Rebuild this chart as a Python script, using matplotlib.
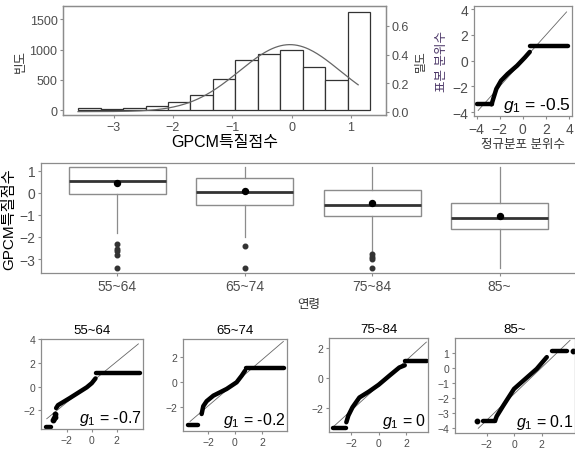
import numpy as np
import matplotlib
matplotlib.use('Agg')
import matplotlib.pyplot as plt

plt.rcParams['font.family'] = ['Liberation Sans', 'Noto Sans CJK KR']
plt.rcParams['mathtext.fontset'] = 'custom'
plt.rcParams['mathtext.it'] = 'Liberation Sans:italic'
plt.rcParams['mathtext.rm'] = 'Liberation Sans'

W, H = 575, 452
TICK = '#4d4d4d'
FRAME = '#8c8c8c'

# ---- histogram (GPCM 특질점수)
bin_left = -3.60
bin_width = 0.379
counts = [33, 11, 27, 60, 138, 248, 512, 830, 919, 995, 710, 490, 1628]
dens_mean = -0.03
dens_sd = 0.85
dens_range = (-3.6, 1.12)

# ---- boxplot by age
ages = ['55~64', '65~74', '75~84', '85~']
q1 = [-0.06, -0.55, -1.03, -1.65]
med = [0.53, 0.03, -0.55, -1.15]
q3 = [1.15, 0.65, 0.13, -0.44]
whis_lo = [-1.8, -1.98, -2.7, -3.39]
whis_hi = [1.15, 1.15, 1.15, 1.15]
means = [0.45, 0.10, -0.44, -1.05]
fliers = [[-2.3, -2.56, -2.65, -2.83, -3.39],
          [-2.39, -3.39],
          [-2.79, -2.9, -3.01, -3.39],
          []]

# ---- QQ plot, all
all_low = (-3.94, -2.7, -3.39)
all_x = [-2.7, -2.56, -2.29, -1.88, -1.32, -0.5, 0.19, 0.6]
all_y = [-3.39, -2.97, -2.19, -1.55, -1.03, -0.39, 0.26, 0.68]
all_high = (0.62, 3.91, 1.15)
all_ref = (1.0, 0.0, -3.86, 3.78)  # slope, intercept, x from, x to
all_g1 = '-0.5'

# ---- QQ plots by age
grp_low = [(-3.65, -3.3, -3.4), (-3.45, -2.75, -3.4), (-3.32, -2.35, -3.35), (-2.28, -1.38, -3.5)]
grp_x = [[-2.85, -2.7, -2.3, -1.75, -1.0, -0.4, 0.0, 0.3],
         [-2.47, -2.35, -2.1, -1.6, -0.62, 0.12, 0.5, 0.74],
         [-2.35, -2.2, -1.9, -1.4, -0.7, 0.0, 0.8, 1.5, 1.9],
         [-1.38, -1.26, -0.78, 0.0, 0.68, 1.65, 2.38]]
grp_y = [[-1.8, -1.55, -1.3, -0.95, -0.45, -0.05, 0.3, 0.7],
         [-2.52, -1.9, -1.5, -1.06, -0.53, 0.0, 0.53, 0.92],
         [-2.95, -2.5, -1.95, -1.3, -0.9, -0.45, 0.17, 0.7, 0.85],
         [-3.5, -3.2, -2.49, -1.38, -0.83, -0.05, 0.73]]
grp_high = [(0.33, 3.86, 1.15), (0.81, 3.63, 1.13), (1.95, 3.55, 1.13), (2.74, 3.83, 1.15)]
grp_dot_x = [[-3.08, -3.02, -2.98, -2.93], [], [], [-2.71, 4.31]]
grp_dot_y = [[-2.83, -2.65, -2.56, -2.3], [], [], [-3.5, 1.15]]
grp_ref = [(0.86, 0.4, -3.6, 3.73), (0.92, -0.05, -3.33, 3.58),
           (0.835, -0.5, -3.32, 3.47), (0.876, -1.72, -2.6, 4.07)]
grp_g1 = ['-0.7', '-0.2', '0', '0.1']


def add_axes(fig, left, right, top, bottom):
    return fig.add_axes([left / W, 1 - bottom / H, (right - left) / W, (bottom - top) / H])


def style(ax, size=9):
    for s in ax.spines.values():
        s.set_color(FRAME)
        s.set_linewidth(0.9)
    ax.tick_params(colors=FRAME, labelcolor=TICK, labelsize=size, length=2.5, width=0.8, pad=1.5)


def draw_qq(ax, low, xs, ys, high, dx, dy, ref, g1, fs):
    a, b, x0, x1 = ref
    ax.plot([x0, x1], [a * x0 + b, a * x1 + b], color='#666666', lw=0.6)
    ax.plot([low[0], low[1]], [low[2], low[2]], color='black', lw=3.2, solid_capstyle='round')
    ax.plot(xs, ys, color='black', lw=3.2, solid_capstyle='round', solid_joinstyle='round')
    ax.plot([high[0], high[1]], [high[2], high[2]], color='black', lw=3.2, solid_capstyle='round')
    if dx:
        ax.plot(dx, dy, 'o', color='black', ms=3.2)
    ax.text(0.985, 0.02, '$g_1$ = ' + g1, transform=ax.transAxes, ha='right', va='bottom',
            fontsize=fs, color='black')


fig = plt.figure(figsize=(W / 100, H / 100), dpi=100)

# histogram
ax = add_axes(fig, 63, 386, 7, 116)
edges = bin_left + bin_width * np.arange(len(counts))
ax.bar(edges, counts, width=bin_width, align='edge', color='white', edgecolor='#333333', linewidth=0.9)
ax.set_xlim(-3.853, 1.589)
ax.set_ylim(-82, 1719)
ax.set_xticks([-3, -2, -1, 0, 1])
ax.set_yticks([0, 500, 1000, 1500])
style(ax)
ax.set_xlabel('GPCM특질점수', fontsize=11.5, labelpad=1)
ax.set_ylabel('빈도', fontsize=9, color='#333333', labelpad=2)
ax2 = ax.twinx()
xx = np.linspace(dens_range[0], dens_range[1], 200)
pdf = np.exp(-0.5 * ((xx - dens_mean) / dens_sd) ** 2) / (dens_sd * np.sqrt(2 * np.pi))
ax2.plot(xx, pdf, color='#666666', lw=0.9)
ax2.set_ylim(-0.0236, 0.74)
ax2.set_yticks([0.0, 0.2, 0.4, 0.6])
ax2.set_yticklabels(['0.0', '0.2', '0.4', '0.6'])
style(ax2)
ax2.set_ylabel('밀도', fontsize=8.5, color='#333333')
ax2.yaxis.set_label_coords(1.09, 0.5)

# overall QQ
ax = add_axes(fig, 474, 572, 7, 117)
draw_qq(ax, all_low, all_x, all_y, all_high, [], [], all_ref, all_g1, 12.5)
ax.set_xlim(-4.22, 4.25)
ax.set_ylim(-4.29, 4.24)
ax.set_xticks([-4, -2, 0, 2, 4])
ax.set_yticks([-4, -2, 0, 2, 4])
style(ax, 10)
ax.set_xlabel('정규분포 분위수', fontsize=9, color='#333333', labelpad=2)
ax.set_ylabel('표본 분위수', fontsize=9, color='#4a3566', labelpad=3)

# boxplot
ax = add_axes(fig, 41, 576, 164, 274)
stats = []
for i in range(len(ages)):
    stats.append(dict(med=med[i], q1=q1[i], q3=q3[i], whislo=whis_lo[i], whishi=whis_hi[i],
                      fliers=fliers[i], mean=means[i], label=ages[i]))
ax.bxp(stats, positions=[1, 2, 3, 4], widths=0.76, showmeans=True, showcaps=False, patch_artist=True,
       boxprops=dict(facecolor='white', edgecolor='#8c8c8c', linewidth=1.0),
       medianprops=dict(color='#333333', linewidth=2.0),
       whiskerprops=dict(color='#8c8c8c', linewidth=0.9),
       flierprops=dict(marker='o', markerfacecolor='#333333', markeredgecolor='#333333', markersize=3.3),
       meanprops=dict(marker='o', markerfacecolor='black', markeredgecolor='black', markersize=4.3))
ax.set_xlim(0.4, 4.6)
ax.set_ylim(-3.63, 1.35)
ax.set_yticks([1, 0, -1, -2, -3])
style(ax, 10)
ax.set_xlabel('연령', fontsize=9, color='#333333', labelpad=4)
ax.set_ylabel('GPCM특질점수', fontsize=11, labelpad=2)

# QQ by age
boxes = [(41, 143, 340, 430), (183, 287, 340, 432), (329, 428, 339, 433), (455, 575, 339, 434)]
xlims = [(-4.06, 4.1), (-3.85, 3.85), (-3.61, 3.59), (-4.29, 4.43)]
ylims = [(-3.56, 4.02), (-3.87, 3.44), (-3.6, 2.67), (-4.31, 2.0)]
yticks = [[-2, 0, 2, 4], [-2, 0, 2], [-2, 0, 2], [-4, -3, -2, -1, 0, 1]]
for i in range(4):
    ax = add_axes(fig, *boxes[i])
    draw_qq(ax, grp_low[i], grp_x[i], grp_y[i], grp_high[i], grp_dot_x[i], grp_dot_y[i],
            grp_ref[i], grp_g1[i], 11.5)
    ax.set_xlim(*xlims[i])
    ax.set_ylim(*ylims[i])
    ax.set_xticks([-2, 0, 2])
    ax.set_yticks(yticks[i])
    style(ax, 7.5)
    ax.set_title(ages[i], fontsize=9.5, pad=4)

fig.savefig('out.png', dpi=100)
